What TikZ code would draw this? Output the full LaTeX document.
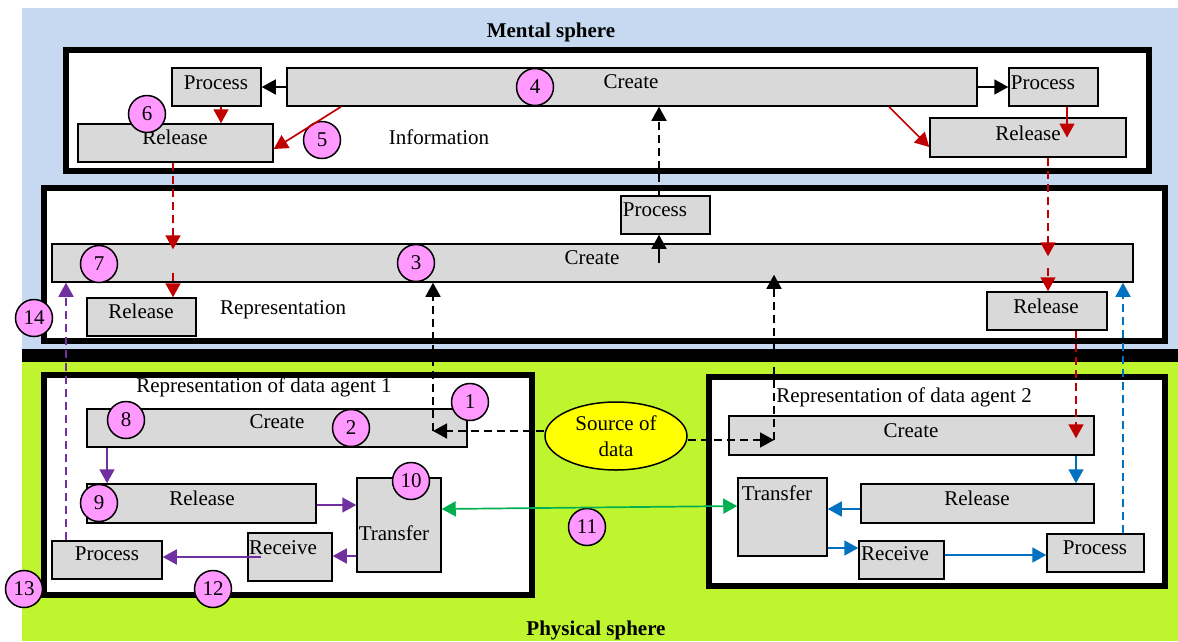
\documentclass[tikz,border=0pt]{standalone}
\usepackage{fontspec}
\setmainfont{Liberation Serif}
\usetikzlibrary{arrows.meta,shapes.geometric,calc}
\definecolor{bluebg}{HTML}{C6D9F0}
\definecolor{greenbg}{HTML}{BFF52F}
\definecolor{boxgray}{HTML}{D9D9D9}
\definecolor{pinkc}{HTML}{FF99FF}
\definecolor{redc}{HTML}{C00000}
\definecolor{purc}{HTML}{7030A0}
\definecolor{bluc}{HTML}{0070C0}
\definecolor{grnc}{HTML}{00B050}
\definecolor{yelc}{HTML}{FFFF00}
\tikzset{
  gbox/.style={draw=black, line width=1.5pt, fill=boxgray, inner sep=0pt},
  lbl/.style={inner sep=0pt, font=\fontsize{21}{25}\selectfont},
  ttl/.style={inner sep=0pt, font=\fontsize{21}{25}\selectfont\bfseries},
  num/.style={circle, draw=black, line width=1.5pt, fill=pinkc, minimum size=37pt, inner sep=0pt, font=\fontsize{21}{25}\selectfont},
  frm/.style={draw=black, line width=6pt, fill=white, inner sep=0pt},
  arr/.style={-{Triangle[length=14pt,width=15pt]}, line width=1.7pt},
  dsh/.style={dash pattern=on 8pt off 5pt},
}
\begin{document}
\begin{tikzpicture}[x=1pt,y=-1pt]
\useasboundingbox (0,0) rectangle (1178,641);
\fill[white] (0,0) rectangle (1178,641);
\fill[bluebg] (22,8) rectangle (1178,349);
\fill[greenbg] (22,362) rectangle (1178,641);
\fill[black] (22,349) rectangle (1178,362);
\node[ttl] (tMental) at (551,32) {Mental sphere};
\node[ttl] (tPhys) at (596,630) {Physical sphere};
% frames
\node[frm, minimum width=1083pt, minimum height=121pt] (fInfo) at (607.5,110.5) {};
\node[frm, minimum width=1120.5pt, minimum height=153pt] (fRep) at (604.25,264.5) {};
\node[frm, minimum width=488pt, minimum height=219.5pt] (fA1) at (288,484.75) {};
\node[frm, minimum width=456pt, minimum height=209.5pt] (fA2) at (937,481.25) {};
% information boxes
\node[gbox, minimum width=89pt, minimum height=38pt] (iProcL) at (216.5,87) {};
\node[gbox, minimum width=690pt, minimum height=38pt] (iCreate) at (632,87) {};
\node[gbox, minimum width=89pt, minimum height=38pt] (iProcR) at (1053.5,87) {};
\node[gbox, minimum width=195pt, minimum height=38pt] (iRelL) at (175.5,143) {};
\node[gbox, minimum width=196pt, minimum height=39pt] (iRelR) at (1028,137.5) {};
% representation boxes
\node[gbox, minimum width=89pt, minimum height=38pt] (rProc) at (665.5,215) {};
\node[gbox, minimum width=1081pt, minimum height=38pt] (rCreate) at (592.5,263) {};
\node[gbox, minimum width=109pt, minimum height=38pt] (rRelL) at (141.5,317) {};
\node[gbox, minimum width=120pt, minimum height=38pt] (rRelR) at (1047,311) {};
% agent 1 boxes
\node[gbox, minimum width=380pt, minimum height=38pt] (aCreate) at (277,428) {};
\node[gbox, minimum width=229pt, minimum height=39pt] (aRel) at (201.5,503.5) {};
\node[gbox, minimum width=84pt, minimum height=94pt] (aTrans) at (399,525) {};
\node[gbox, minimum width=84pt, minimum height=48pt] (aRecv) at (290,557) {};
\node[gbox, minimum width=110pt, minimum height=38pt] (aProc) at (107,560) {};
% agent 2 boxes
\node[gbox, minimum width=365pt, minimum height=39pt] (bCreate) at (911.5,435.5) {};
\node[gbox, minimum width=89pt, minimum height=78pt] (bTrans) at (782.5,517) {};
\node[gbox, minimum width=233pt, minimum height=39pt] (bRel) at (977.5,503.5) {};
\node[gbox, minimum width=85pt, minimum height=38pt] (bRecv) at (901.5,560) {};
\node[gbox, minimum width=97pt, minimum height=38pt] (bProc) at (1095.5,553) {};
% texts
\node[lbl] (x1) at (216,83) {Process};
\node[lbl] (x2) at (631,82) {Create};
\node[lbl] (x3) at (1043,83) {Process};
\node[lbl] (x4) at (175,137) {Release};
\node[lbl] (x5) at (1028,133) {Release};
\node[lbl] (x6) at (439,137) {Information};
\node[lbl] (x7) at (655,210) {Process};
\node[lbl] (x8) at (592,258) {Create};
\node[lbl] (x9) at (141,311) {Release};
\node[lbl] (x10) at (1046,306) {Release};
\node[lbl] (x11) at (283,310) {Representation};
\node[lbl] (x12) at (264,387) {Representation of data agent 1};
\node[lbl] (x13) at (277,422) {Create};
\node[lbl] (x14) at (202,498) {Release};
\node[lbl] (x15) at (394,533) {Transfer};
\node[lbl] (x16) at (283,548) {Receive};
\node[lbl] (x17) at (107,554) {Process};
\node[lbl] (x18) at (904,397) {Representation of data agent 2};
\node[lbl] (x19) at (911,431) {Create};
\node[lbl] (x20) at (777,493) {Transfer};
\node[lbl] (x21) at (977,498) {Release};
\node[lbl] (x22) at (895,554) {Receive};
\node[lbl] (x23) at (1095,548) {Process};
% source
\node[ellipse, draw=black, line width=1.5pt, fill=yelc, minimum width=142pt, minimum height=68pt, inner sep=0pt, align=center, font=\fontsize{21}{26}\selectfont] (src) at (616,436) {Source of\\data};
% numbered circles
\node[num] (n1) at (470,402) {1};
\node[num] (n2) at (351,428) {2};
\node[num] (n3) at (416,263) {3};
\node[num] (n4) at (535,87) {4};
\node[num] (n5) at (322,140) {5};
\node[num] (n6) at (147,114) {6};
\node[num] (n7) at (99,264) {7};
\node[num] (n8) at (126,420) {8};
\node[num] (n9) at (99,503) {9};
\node[num] (n10) at (411,481) {10};
\node[num] (n11) at (587,527) {11};
\node[num] (n12) at (213,589) {12};
\node[num] (n13) at (24,589) {13};
\node[num] (n14) at (34,318) {14};
% black arrows
\draw[arr] (iCreate.west) -- (iProcL.east);
\draw[arr] (iCreate.east) -- (iProcR.west);
\draw[arr] (rCreate.center -| 659,0) -- (rProc.south -| 659,0);
\draw[arr,dsh] (rProc.north -| 659,0) -- (iCreate.south -| 659,0);
\coordinate (c1) at (433,431);
\coordinate (c2) at (774,440);
\draw[arr,dsh] (src.west |- c1) -- (c1);
\draw[arr,dsh] (c1) -- (rCreate.south -| c1);
\draw[arr,dsh] (src.east |- c2) -- (c2);
\draw[arr,dsh] (c2) -- ($(rCreate.south -| c2)+(0,-8)$);
% red arrows
\draw[arr,redc] (iCreate.south -| 341,0) -- (iRelL.east |- 0,149);
\draw[arr,redc] (iProcL.south -| 221,0) -- (iRelL.north -| 221,0);
\draw[arr,redc] (iCreate.south -| 889,0) -- (iRelR.west |- 0,147);
\draw[arr,redc] (iProcR.south -| 1067,0) -- (iRelR.center -| 1067,0);
\draw[arr,redc,dsh] (iRelL.south -| 173,0) -- ($(rCreate.north -| 173,0)+(0,6)$);
\draw[arr,redc,dsh] ($(rCreate.south -| 173,0)+(0,-10)$) -- (rRelL.north -| 173,0);
\draw[arr,redc,dsh] (iRelR.south -| 1048,0) -- ($(rCreate.north -| 1048,0)+(0,13)$);
\draw[arr,redc,dsh] ($(rCreate.south -| 1048,0)+(0,-15)$) -- (rRelR.north -| 1048,0);
\draw[arr,redc,dsh] (rRelR.south -| 1076,0) -- ($(bCreate.north -| 1076,0)+(0,23)$);
% purple arrows
\draw[arr,purc] (aCreate.south -| 107,0) -- (aRel.north -| 107,0);
\draw[arr,purc] (aRel.east |- 0,505) -- (aTrans.west |- 0,505);
\draw[arr,purc] (aTrans.west |- 0,556) -- (aRecv.east |- 0,556);
\draw[arr,purc] (aRecv.center -| 261,0) -- (aProc.east |- 0,557);
\draw[arr,purc,dsh] (aProc.north -| 66,0) -- (rCreate.south -| 66,0);
% green arrow
\draw[{Triangle[length=14pt,width=15pt]}-{Triangle[length=14pt,width=15pt]}, line width=1.7pt, grnc] (aTrans.east |- 0,509) -- (bTrans.west |- 0,506);
% blue arrows
\draw[arr,bluc] (bCreate.south -| 1076,0) -- (bRel.north -| 1076,0);
\draw[arr,bluc] (bRel.west |- 0,509) -- (bTrans.east |- 0,509);
\draw[arr,bluc] (bTrans.east |- 0,548) -- (bRecv.west |- 0,548);
\draw[arr,bluc] (bRecv.east |- 0,555) -- (bProc.west |- 0,555);
\draw[arr,bluc,dsh] (bProc.north -| 1123,0) -- (rCreate.south -| 1123,0);
\end{tikzpicture}
\end{document}
